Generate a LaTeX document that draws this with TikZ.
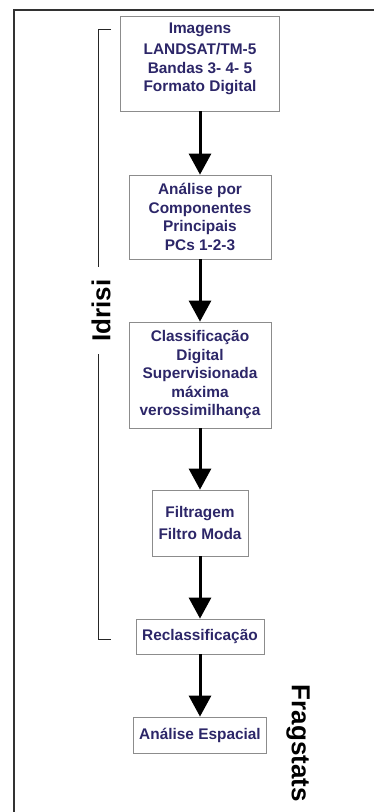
\documentclass[tikz,border=0pt]{standalone}
\usepackage{fontspec}
\setmainfont{Liberation Sans}
\usetikzlibrary{arrows.meta}
\definecolor{navy}{RGB}{44,38,104}
\definecolor{boxgray}{RGB}{140,140,140}
\definecolor{framegray}{RGB}{50,50,50}
\begin{document}
\begin{tikzpicture}[x=1pt,y=1pt,
  stepbox/.style={draw=boxgray, line width=0.8pt, inner sep=0pt, align=center,
    text=navy, font=\bfseries\fontsize{15.4}{18.5}\selectfont},
  arr/.style={line width=3pt, black, -{Triangle[width=22pt,length=21pt]}, shorten >=0pt},
  sidelabel/.style={font=\bfseries\fontsize{26}{30}\selectfont, text=black, inner sep=0pt},
  bracket/.style={line width=1pt, black!85}
]
\useasboundingbox (0,0) rectangle (373,-812);
% outer frame
\coordinate (fbl) at (13.5,-813);
\coordinate (ftl) at (13.5,-10);
\coordinate (ftr) at (374,-10);
\draw[line width=2pt, framegray] (fbl) -- (ftl) -- (ftr);

% boxes
\node[stepbox, minimum width=159pt, minimum height=95pt] (b1) at (200,-63.5)
  {Imagens\\[2.5pt] LANDSAT/TM-5\\ Bandas 3- 4- 5\\ Formato Digital\\[-6pt]};
\node[stepbox, minimum width=142pt, minimum height=84pt] (b2) at (200,-217)
  {Análise por\\ Componentes\\ Principais\\ PCs 1-2-3};
\node[stepbox, minimum width=142pt, minimum height=106pt] (b3) at (200,-375)
  {Classificação\\ Digital\\ Supervisionada\\ máxima\\ verossimilhança};
\node[stepbox, minimum width=96pt, minimum height=66pt, font=\bfseries\fontsize{15.4}{22}\selectfont] (b4) at (200,-523)
  {Filtragem\\ Filtro Moda};
\node[stepbox, minimum width=128pt, minimum height=35pt] (b5) at (200,-636.5)
  {Reclassificação};
\node[stepbox, minimum width=133pt, minimum height=36pt] (b6) at (200,-735)
  {Análise Espacial};

% arrows
\draw[arr] (b1.south) -- (b2.north);
\draw[arr] (b2.south) -- (b3.north);
\draw[arr] (b3.south) -- (b4.north);
\draw[arr] (b4.south) -- (b5.north);
\draw[arr] (b5.south) -- (b6.north);

% Idrisi bracket
\node[sidelabel, rotate=90] (idrisi) at (101,-310.5) {Idrisi};
\coordinate (bt1) at (111,-29.5);
\coordinate (bt2) at (98.5,-29.5);
\coordinate (bt3) at (98.5,-267);
\coordinate (bb3) at (98.5,-354);
\coordinate (bb2) at (98.5,-639);
\coordinate (bb1) at (111,-639);
\draw[bracket] (bt1) -- (bt2) -- (bt3);
\draw[bracket] (bb3) -- (bb2) -- (bb1);

% Fragstats
\node[sidelabel, rotate=-90] (frag) at (298,-743.5) {Fragstats};
\end{tikzpicture}
\end{document}
